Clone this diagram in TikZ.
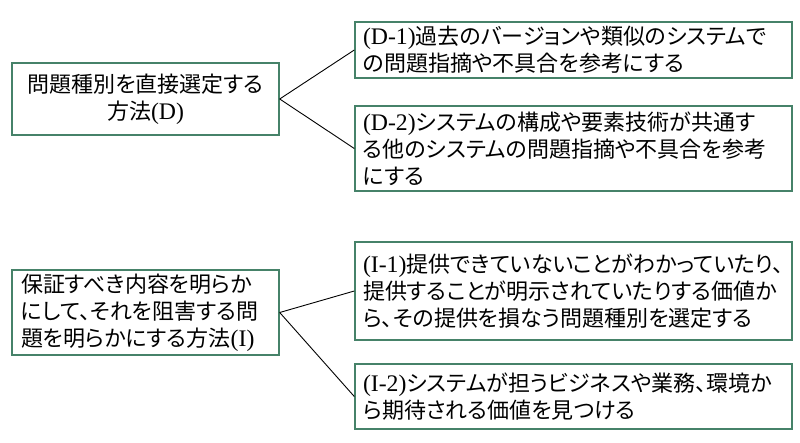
\documentclass[tikz,border=0pt]{standalone}
\usepackage{fontspec}
\setmainfont[RawFeature={+palt}]{Noto Sans CJK JP}
\newfontfamily\latf[Scale=1.08]{Liberation Serif}
\newcommand{\lat}[1]{{\latf #1}}
\definecolor{boxgreen}{RGB}{70,130,105}
\begin{document}
\begin{tikzpicture}[x=1pt,y=-1pt,
  box/.style={draw=boxgreen, line width=1.4pt, rectangle, inner sep=0pt,
    font=\fontsize{22}{27}\selectfont},
  conn/.style={draw=black, line width=0.9pt}]
\useasboundingbox (0,0) rectangle (800,443);
\node[box, minimum width=267, minimum height=72, text width=251, align=center] (D) at (145.5,99)
  {問題種別を直接選定する\\方法\lat{(D)}};
\node[box, minimum width=437, minimum height=56, text width=421, align=left] (D1) at (573.5,50)
  {\lat{(D-1)}過去のバージョンや類似のシステムで\\の問題指摘や不具合を参考にする};
\node[box, minimum width=437, minimum height=85, text width=421, align=left] (D2) at (573.5,148.5)
  {\lat{(D-2)}システムの構成や要素技術が共通す\\る他のシステムの問題指摘や不具合を参考\\にする};
\node[box, minimum width=267, minimum height=85, text width=249, align=left] (I) at (145.5,312.5)
  {保証すべき内容を明らか\\にして、それを阻害する問\\題を明らかにする方法\lat{(I)}};
\node[box, minimum width=437, minimum height=98, text width=421, align=left] (I1) at (573.5,291)
  {\lat{(I-1)}提供できていないことがわかっていたり、\\提供することが明示されていたりする価値か\\ら、その提供を損なう問題種別を選定する};
\node[box, minimum width=437, minimum height=65, text width=421, align=left] (I2) at (573.5,396.5)
  {\lat{(I-2)}システムが担うビジネスや業務、環境か\\ら期待される価値を見つける};
\draw[conn] (D.east) -- (D1.west);
\draw[conn] (D.east) -- (D2.west);
\draw[conn] (I.east) -- (I1.west);
\draw[conn] (I.east) -- (I2.west);
\end{tikzpicture}
\end{document}
